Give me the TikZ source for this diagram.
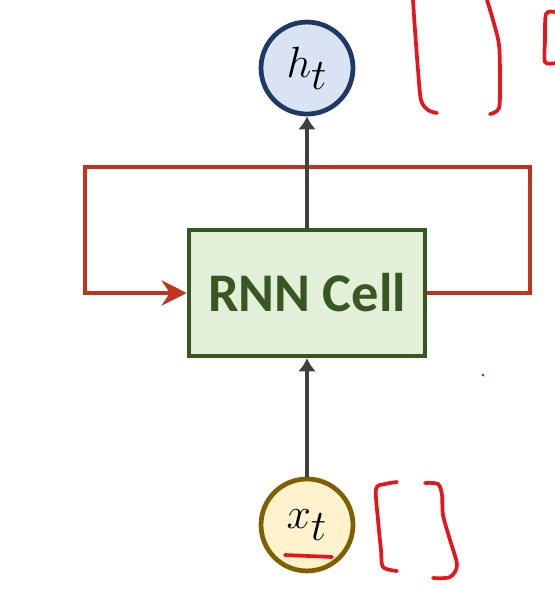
\documentclass[tikz,border=0pt]{standalone}
\usepackage{fontspec}
\setsansfont{Carlito}
\usepackage{tikz}
\usetikzlibrary{arrows.meta}

\definecolor{hfill}{HTML}{DAE3F3}
\definecolor{hdraw}{HTML}{203864}
\definecolor{cfill}{HTML}{E2F0D9}
\definecolor{cdraw}{HTML}{385723}
\definecolor{xfill}{HTML}{FFF2CC}
\definecolor{xdraw}{HTML}{7F6000}
\definecolor{flow}{HTML}{404040}
\definecolor{loopred}{HTML}{C0341D}
\definecolor{pen}{HTML}{E8141B}

\begin{document}
\begin{tikzpicture}[x=0.02cm, y=-0.02cm, node distance={4.5cm},
    hnode/.style = {draw=hdraw, fill=hfill, circle, line width=2.7pt, minimum size=1.84cm, inner sep=0pt, font=\fontsize{34}{38}\selectfont},
    xnode/.style = {draw=xdraw, fill=xfill, circle, line width=2.7pt, minimum size=1.84cm, inner sep=0pt, font=\fontsize{34}{38}\selectfont},
    cell/.style = {draw=cdraw, fill=cfill, line width=2.6pt, minimum width=4.72cm, minimum height=2.52cm, text=cdraw, font=\sffamily\bfseries\fontsize{31}{36}\selectfont},
    flowline/.style = {-{Latex[length=2.6mm, width=3.6mm]}, flow, line width=2.5pt},
    loopline/.style = {-{Stealth[length=5mm, width=5mm]}, loopred, line width=2.5pt},
    ink/.style = {pen, line width=2.1pt, line cap=round, line join=round}]
    \useasboundingbox (0,0) rectangle (555,603);
        \node[cell] (cell) at (307,293) {RNN Cell};
        \node[hnode] (h) [above of=cell] {$h_t$};
        \node[xnode] (x) [below of=cell, yshift=-1.4mm] {$x_t$};
        \coordinate (loopR) at (530,167);
        \coordinate (loopL) at (85,167);
        \draw[loopline] (cell.east) -| (loopR) -- (loopL) |- (cell.west);
        \draw[flowline] (x) -- (cell);
        \draw[flowline] (cell) -- (h);
        % handwritten marks
        \draw[ink] plot[smooth] coordinates {(413,0) (415,30) (418,70) (421,100) (428,110) (437,113)};
        \draw[ink] plot[smooth] coordinates {(487,0) (493,20) (499,45) (500,80) (499,108) (490,114)};
        \draw[ink] plot[smooth] coordinates {(555,12) (546,14) (545,40) (545,62) (555,63)};
        \draw[ink] plot[smooth] coordinates {(397,482) (385,484) (376,489) (378,520) (381,550) (383,567) (397,571)};
        \draw[ink] plot[smooth] coordinates {(425,483) (438,484) (442,495) (443,515) (450,540) (457,565) (450,577) (433,578)};
        \draw[ink] (285,555) -- (332,557);
        \fill[pen] (483,375) circle (1.5);
    \end{tikzpicture}
\end{document}
